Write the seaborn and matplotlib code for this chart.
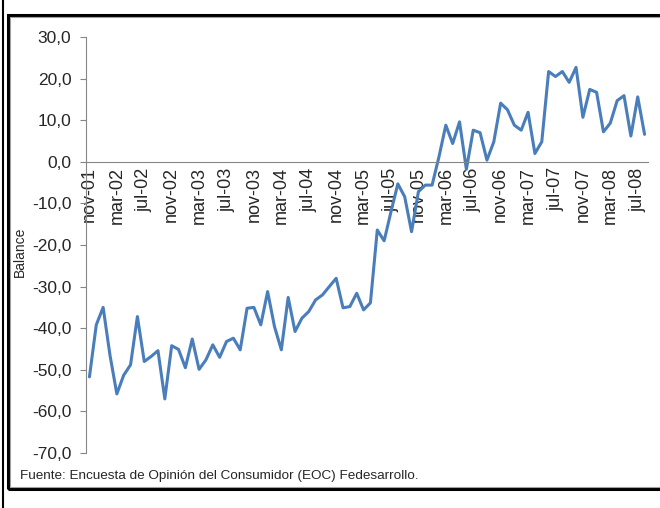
import numpy as np
import pandas as pd
import matplotlib
matplotlib.use("Agg")
import matplotlib.pyplot as plt
import seaborn as sns
from matplotlib.lines import Line2D
from matplotlib.patches import Rectangle

# ---------------------------------------------------------
# Data: monthly consumer confidence balance, nov-01 .. aug-08
# ---------------------------------------------------------
balance = [
    -51.7, -39.2, -35.0, -46.5, -55.8, -51.3, -48.8, -37.2, -48.0, -46.8,
    -45.4, -57.0, -44.2, -45.1, -49.5, -42.6, -49.9, -47.6, -44.0, -47.0,
    -43.2, -42.4, -45.2, -35.2, -35.0, -39.2, -31.2, -39.6, -45.2, -32.6,
    -40.8, -37.6, -36.0, -33.2, -32.0, -30.0, -28.0, -35.1, -34.8, -31.6,
    -35.6, -33.9, -16.4, -19.0, -12.0, -5.3, -8.4, -16.8, -7.2, -5.6,
    -5.6, 1.2, 8.8, 4.4, 9.6, -1.8, 7.6, 7.0, 0.4, 4.8,
    14.1, 12.5, 8.8, 7.6, 11.9, 2.0, 4.8, 21.7, 20.5, 21.7,
    19.1, 22.7, 10.7, 17.4, 16.7, 7.2, 9.3, 14.7, 15.9, 6.2,
    15.6, 6.6,
]
tick_labels = [
    "nov-01", "mar-02", "jul-02", "nov-02", "mar-03", "jul-03", "nov-03",
    "mar-04", "jul-04", "nov-04", "mar-05", "jul-05", "nov-05", "mar-06",
    "jul-06", "nov-06", "mar-07", "jul-07", "nov-07", "mar-08", "jul-08",
]
y_ticks = [-70, -60, -50, -40, -30, -20, -10, 0, 10, 20, 30]

df = pd.DataFrame({"mes": np.arange(len(balance)), "balance": balance})

# ---------------------------------------------------------
# Figure
# ---------------------------------------------------------
sns.set_style("white")
plt.rcParams["font.family"] = ["Liberation Sans", "DejaVu Sans"]

W, H = 660, 508
fig = plt.figure(figsize=(W / 100, H / 100), dpi=100)
ax = fig.add_axes([86 / W, 1 - 453 / H, (648 - 86) / W, (453 - 37) / H])

sns.lineplot(data=df, x="mes", y="balance", ax=ax, color="#4a7ebb", linewidth=2.2)

grey = "#868686"
ax.set_xlim(-0.5, len(balance) - 0.5)
ax.set_ylim(-70, 30)
for s in ["top", "right"]:
    ax.spines[s].set_visible(False)
ax.spines["bottom"].set_position(("data", 0))
ax.spines["bottom"].set_color(grey)
ax.spines["left"].set_color(grey)

# ticks between categories, labels on every 4th category
ax.set_xticks(np.arange(len(tick_labels)) * 4 - 0.5)
ax.set_xticklabels([])
ax.set_xticks(np.arange(len(tick_labels)) * 4, minor=True)
ax.set_xticklabels(tick_labels, minor=True, rotation=90, fontsize=13)
ax.tick_params(axis="x", which="major", direction="out", length=4.5, color=grey)
ax.tick_params(axis="x", which="minor", length=0, pad=4)

ax.set_yticks(y_ticks)
ax.set_yticklabels([f"{v:.1f}".replace(".", ",") for v in y_ticks], fontsize=12.5)
ax.tick_params(axis="y", direction="out", length=4.5, color=grey, pad=6, left=True)
ax.set_xlabel("")
ax.set_ylabel("")

fig.text(20 / W, 1 - 252 / H, "Balance", rotation=90, ha="center", va="center", fontsize=10)
fig.text(20 / W, 1 - 476 / H, "Fuente: Encuesta de Opinión del Consumidor (EOC) Fedesarrollo.",
         ha="left", va="center", fontsize=9.7)

# surrounding frame
fig.add_artist(Line2D([3 / W, 3 / W], [0, 1], color="black", lw=1.5, transform=fig.transFigure))
fig.add_artist(Rectangle((7.5 / W, 1 - 489 / H), 700 / W, (489 - 14.5) / H, fill=False,
                         edgecolor="black", lw=2.2, transform=fig.transFigure))
fig.add_artist(Rectangle((10.5 / W, 1 - 486.5 / H), 700 / W, (486.5 - 17) / H, fill=False,
                         edgecolor="#a0a0a0", lw=0.8, transform=fig.transFigure))

fig.savefig("out.png", dpi=100)
